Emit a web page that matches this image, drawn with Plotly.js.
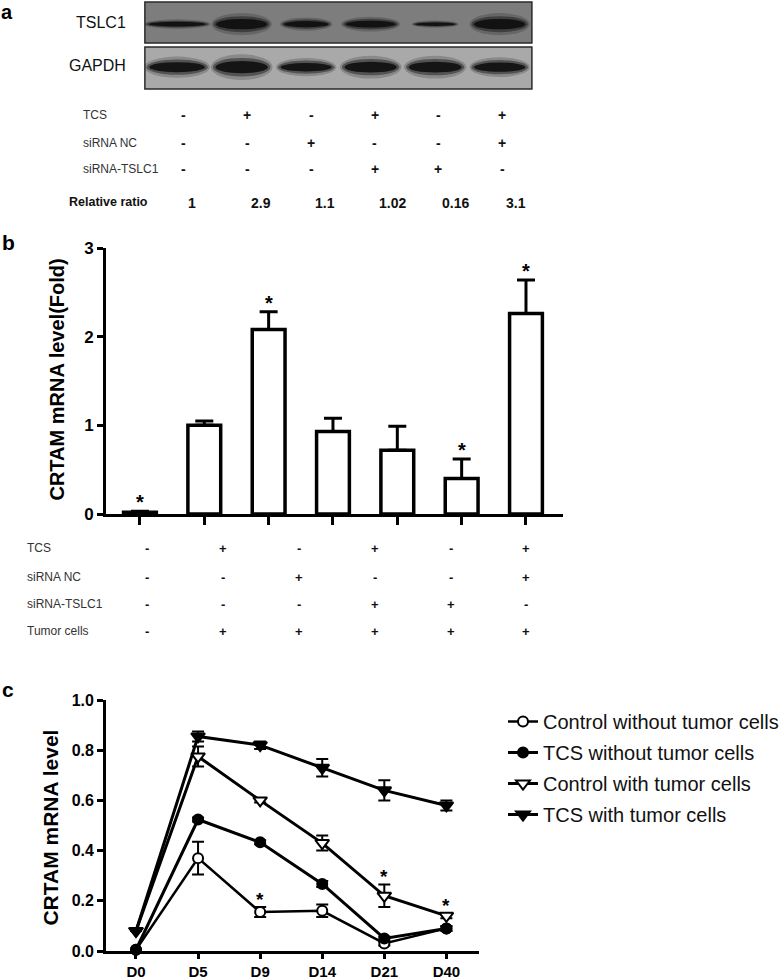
<!DOCTYPE html>
<html><head><meta charset="utf-8">
<script src="https://cdn.plot.ly/plotly-3.0.1.min.js"></script>
<style>html,body{margin:0;padding:0;background:#fff}#chart{width:784px;height:980px}</style>
</head><body><div id="chart"></div>
<script>
// ================= DATA =================
// Panel a: western blot (band width in lane units, thickness as fraction of strip height)
const blotLanes = [1, 2, 3, 4, 5, 6];
const tslc1BandWidth = [1.0, 0.9, 0.78, 0.88, 0.7, 0.9];
const tslc1BandThickness = [0.13, 0.30, 0.18, 0.20, 0.10, 0.30];
const gapdhBandWidth = [0.98, 0.92, 0.9, 0.92, 0.93, 0.9];
const gapdhBandThickness = [0.28, 0.34, 0.24, 0.30, 0.30, 0.26];
const tableALabels = ["TCS", "siRNA NC", "siRNA-TSLC1"];
const tableA_TCS = ["-", "+", "-", "+", "-", "+"];
const tableA_NC = ["-", "-", "+", "-", "-", "+"];
const tableA_siTSLC1 = ["-", "-", "-", "+", "+", "-"];
const relativeRatio = ["1", "2.9", "1.1", "1.02", "0.16", "3.1"];

// Panel b: CRTAM mRNA level (fold)
const barGroups = [0, 1, 2, 3, 4, 5, 6];
const barValues = [0.02, 1.0, 2.08, 0.93, 0.72, 0.40, 2.26];
const barErrors = [0.01, 0.05, 0.20, 0.15, 0.27, 0.22, 0.38];
const barSignificant = [true, false, true, false, false, true, true];
const tableBLabels = ["TCS", "siRNA NC", "siRNA-TSLC1", "Tumor cells"];
const tableB_TCS = ["-", "+", "-", "+", "-", "+"];
const tableB_NC = ["-", "-", "+", "-", "-", "+"];
const tableB_siTSLC1 = ["-", "-", "-", "+", "+", "-"];
const tableB_tumor = ["-", "+", "+", "+", "+", "+"];

// Panel c: time course
const days = ["D0", "D5", "D9", "D14", "D21", "D40"];
const ctrlNoTumor = [0.005, 0.37, 0.155, 0.16, 0.03, 0.09];
const ctrlNoTumorErr = [null, 0.065, 0.02, 0.025, 0.008, 0.008];
const tcsNoTumor = [0.005, 0.524, 0.433, 0.267, 0.05, 0.09];
const tcsNoTumorErr = [null, 0.008, 0.008, 0.012, 0.008, 0.01];
const ctrlTumor = [0.08, 0.775, 0.60, 0.43, 0.22, 0.14];
const ctrlTumorErr = [null, 0.04, 0.008, 0.03, 0.045, 0.01];
const tcsTumor = [0.08, 0.855, 0.82, 0.73, 0.64, 0.58];
const tcsTumorErr = [null, 0.02, 0.015, 0.035, 0.04, 0.02];
const starDaysC = ["D9", "D21", "D40"];
const starLevelsC = [0.175, 0.265, 0.15];
const seriesNames = ["Control without tumor cells", "TCS without tumor cells",
                     "Control with tumor cells", "TCS with tumor cells"];

// ================= LAYOUT HELPERS =================
const W = 784, H = 980;
const FONT = "Liberation Sans, Arial, Helvetica, sans-serif";
const px = x => x / W;
const py = y => 1 - y / H;

const annotations = [];
function txt(text, x, y, o) {
  o = o || {};
  annotations.push(Object.assign({
    text: text, x: x, y: y, xref: 'paper', yref: 'paper',
    xanchor: 'left', yanchor: 'middle', showarrow: false,
    font: {family: FONT, size: 12, color: '#222'}
  }, o));
}

// panel letters
txt('a', px(0), py(0), {yanchor: 'top', borderpad: 0, font: {family: FONT, size: 20, color: '#000', weight: 'bold'}});
txt('b', px(0), py(243), {font: {family: FONT, size: 21, color: '#000', weight: 'bold'}});
txt('c', px(0), py(689), {font: {family: FONT, size: 21, color: '#000', weight: 'bold'}});

// blot labels
txt('TSLC1', px(129), py(22), {xanchor: 'right', font: {family: FONT, size: 16, color: '#111'}});
txt('GAPDH', px(129), py(65), {xanchor: 'right', font: {family: FONT, size: 16, color: '#111'}});

// table a
const rowYA = [115, 143, 169];
const tableARows = [tableA_TCS, tableA_NC, tableA_siTSLC1];
tableALabels.forEach((lab, r) => {
  txt(lab, px(82), py(rowYA[r]), {font: {family: FONT, size: 12, color: '#333'}});
  tableARows[r].forEach((s, i) => {
    annotations.push({text: s, x: blotLanes[i], y: py(rowYA[r]), xref: 'x5', yref: 'paper',
      xanchor: 'center', yanchor: 'middle', showarrow: false,
      font: {family: FONT, size: 14, color: '#111', weight: 'bold'}});
  });
});
txt('Relative ratio', px(68), py(202), {font: {family: FONT, size: 12.5, color: '#111', weight: 'bold'}});
relativeRatio.forEach((v, i) => {
  annotations.push({text: v, x: blotLanes[i], y: py(203), xref: 'x5', yref: 'paper',
    xanchor: 'left', xshift: 2, yanchor: 'middle', showarrow: false,
    font: {family: FONT, size: 14, color: '#111', weight: 'bold'}});
});

// table b
const rowYB = [548, 577, 604, 631];
const tableBRows = [tableB_TCS, tableB_NC, tableB_siTSLC1, tableB_tumor];
tableBLabels.forEach((lab, r) => {
  txt(lab, px(25), py(rowYB[r]), {font: {family: FONT, size: 12, color: '#333'}});
  tableBRows[r].forEach((s, i) => {
    annotations.push({text: s, x: i + 1, y: py(rowYB[r]), xref: 'x6', yref: 'paper',
      xanchor: 'center', yanchor: 'middle', showarrow: false,
      font: {family: FONT, size: 13, color: '#111', weight: 'bold'}});
  });
});

// y titles
txt('CRTAM mRNA level(Fold)', px(57), py(380), {xanchor: 'center', textangle: -90,
  font: {family: FONT, size: 20, color: '#000', weight: 'bold'}});
txt('CRTAM mRNA level', px(50), py(828), {xanchor: 'center', textangle: -90,
  font: {family: FONT, size: 21, color: '#000', weight: 'bold'}});

// panel b stars
barGroups.forEach((g, i) => {
  if (barSignificant[i]) {
    annotations.push({text: '*', x: g, y: barValues[i] + barErrors[i], xref: 'x3', yref: 'y3',
      xanchor: 'center', yanchor: 'bottom', yshift: -4, showarrow: false,
      font: {family: FONT, size: 20, color: '#000', weight: 'bold'}});
  }
});
// panel c stars
starDaysC.forEach((d, i) => {
  annotations.push({text: '*', x: d, y: starLevelsC[i], xref: 'x4', yref: 'y4',
    xanchor: 'center', yanchor: 'bottom', yshift: -5, showarrow: false,
    font: {family: FONT, size: 19, color: '#000', weight: 'bold'}});
});

// ================= BLOT SHAPES =================
const shapes = [];
function strip(xr, yr, bg) {
  shapes.push({type: 'rect', xref: xr + ' domain', yref: yr + ' domain', x0: 0, x1: 1, y0: 0, y1: 1,
    fillcolor: bg, line: {color: '#2a2a2a', width: 1.5}, layer: 'below'});
}
strip('x', 'y', '#7d7d7d');
strip('x2', 'y2', '#a9a9a9');
function bands(xr, yr, widths, thick, yc) {
  const layers = [[1.04, 1.8, 0.2], [0.97, 1.3, 0.42], [0.88, 0.85, 0.85]];
  blotLanes.forEach((lane, i) => {
    layers.forEach(([fw, fh, op]) => {
      shapes.push({type: 'circle', xref: xr, yref: yr,
        x0: lane - widths[i] * fw / 2, x1: lane + widths[i] * fw / 2,
        y0: yc - thick[i] * fh / 2, y1: yc + thick[i] * fh / 2,
        fillcolor: 'rgba(10,10,10,' + op + ')', line: {width: 0}, layer: 'above'});
    });
  });
}
bands('x', 'y', tslc1BandWidth, tslc1BandThickness, 0.46);
bands('x2', 'y2', gapdhBandWidth, gapdhBandThickness, 0.52);

// ================= TRACES =================
const traces = [];
// invisible anchors for blot axes
traces.push({x: [blotLanes[0]], y: [0.5], xaxis: 'x', yaxis: 'y', mode: 'markers',
  marker: {opacity: 0}, showlegend: false, hoverinfo: 'skip'});
traces.push({x: [blotLanes[0]], y: [0.5], xaxis: 'x2', yaxis: 'y2', mode: 'markers',
  marker: {opacity: 0}, showlegend: false, hoverinfo: 'skip'});

// panel b bars
traces.push({type: 'bar', x: barGroups, y: barValues, xaxis: 'x3', yaxis: 'y3', width: 0.51,
  marker: {color: '#fff', line: {color: '#000', width: 3.5}},
  error_y: {type: 'data', array: barErrors, arrayminus: barGroups.map(() => 0), symmetric: false,
    color: '#000', thickness: 3, width: 9},
  showlegend: false, hoverinfo: 'skip'});

// panel c lines
const styles = [
  {symbol: 'circle', size: 10, fill: '#fff', lw: 2.5},
  {symbol: 'circle', size: 10, fill: '#000', lw: 3},
  {symbol: 'triangle-down', size: 12, fill: '#fff', lw: 3},
  {symbol: 'triangle-down', size: 12, fill: '#000', lw: 3}
];
const cData = [ctrlNoTumor, tcsNoTumor, ctrlTumor, tcsTumor];
const cErr = [ctrlNoTumorErr, tcsNoTumorErr, ctrlTumorErr, tcsTumorErr];
cData.forEach((ys, k) => {
  const s = styles[k];
  traces.push({type: 'scatter', mode: 'lines+markers', x: days, y: ys, xaxis: 'x4', yaxis: 'y4',
    name: seriesNames[k], legendgroup: 'g' + k, cliponaxis: false,
    line: {color: '#000', width: s.lw},
    marker: {symbol: s.symbol, size: s.size, color: s.fill, line: {color: '#000', width: 2}},
    error_y: {type: 'data', array: cErr[k], symmetric: true, color: '#000', thickness: 2, width: 6},
    hoverinfo: 'skip'});
});

// ================= LAYOUT =================
const axOff = {visible: false, showgrid: false, zeroline: false, fixedrange: true};
const layout = {
  width: W, height: H, margin: {l: 0, r: 0, t: 0, b: 0},
  paper_bgcolor: '#fff', plot_bgcolor: 'rgba(0,0,0,0)',
  font: {family: FONT, color: '#000'},
  showlegend: true,
  legend: {x: px(507), y: py(702), xanchor: 'left', yanchor: 'top',
    font: {family: FONT, size: 20, color: '#111'}, bgcolor: 'rgba(0,0,0,0)',
    tracegroupgap: 2, traceorder: 'grouped'},
  xaxis: Object.assign({}, axOff, {domain: [px(146), px(536)], range: [0.5, 6.5], anchor: 'y'}),
  yaxis: Object.assign({}, axOff, {domain: [py(43), py(2)], range: [0, 1], anchor: 'x'}),
  xaxis2: Object.assign({}, axOff, {domain: [px(146), px(536)], range: [0.5, 6.5], anchor: 'y2'}),
  yaxis2: Object.assign({}, axOff, {domain: [py(89), py(47)], range: [0, 1], anchor: 'x2'}),
  xaxis3: {domain: [px(107), px(567)], range: [-0.525, 6.57], anchor: 'y3',
    showline: true, linewidth: 3, linecolor: '#000', ticks: 'outside', ticklen: 8, tickwidth: 3,
    tickcolor: '#000', tickvals: barGroups, showticklabels: false, showgrid: false, zeroline: false},
  yaxis3: {domain: [py(514), py(248)], range: [0, 3], anchor: 'x3',
    showline: true, linewidth: 3, linecolor: '#000', ticks: 'outside', ticklen: 6, tickwidth: 3,
    tickcolor: '#000', tickvals: [0, 1, 2, 3], showgrid: false, zeroline: false,
    tickfont: {family: FONT, size: 17, color: '#000', weight: 'bold'}},
  xaxis4: {domain: [px(107), px(483)], type: 'category', range: [-0.48, 5.53], anchor: 'y4',
    showline: true, linewidth: 3, linecolor: '#000', ticks: 'outside', ticklen: 5, tickwidth: 3,
    tickcolor: '#000', showgrid: false, zeroline: false,
    tickfont: {family: FONT, size: 15, color: '#000', weight: 'bold'}},
  yaxis4: {domain: [py(951), py(700)], range: [0, 1], anchor: 'x4', dtick: 0.2, tickformat: '.1f',
    showline: true, linewidth: 3, linecolor: '#000', ticks: 'outside', ticklen: 6, tickwidth: 3,
    tickcolor: '#000', showgrid: false, zeroline: false,
    tickfont: {family: FONT, size: 16, color: '#000', weight: 'bold'}},
  xaxis5: Object.assign({}, axOff, {domain: [0, 1], range: [1 - 185 / 64.2, 1 - 185 / 64.2 + W / 64.2], anchor: 'y'}),
  xaxis6: Object.assign({}, axOff, {domain: [0, 1], range: [1 - 148 / 76.5, 1 - 148 / 76.5 + W / 76.5], anchor: 'y'}),
  annotations: annotations,
  shapes: shapes
};

Plotly.newPlot('chart', traces, layout, {staticPlot: true, displayModeBar: false});
</script>
</body></html>
